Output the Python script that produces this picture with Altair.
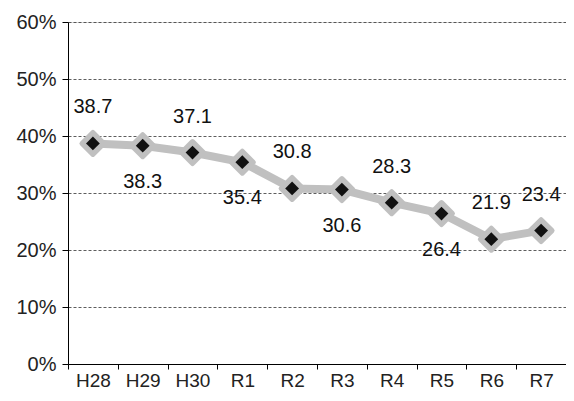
import altair as alt
import pandas as pd

years = ["H28", "H29", "H30", "R1", "R2", "R3", "R4", "R5", "R6", "R7"]
values = [38.7, 38.3, 37.1, 35.4, 30.8, 30.6, 28.3, 26.4, 21.9, 23.4]
label_pos = ["above", "below", "above", "below", "above", "below", "above", "below", "above", "above"]

df = pd.DataFrame({"year": years, "value": values, "pos": label_pos})
df["label"] = df["value"].map(lambda v: f"{v:.1f}")

FONT = "Liberation Sans"
FS = 20

x = alt.X("year:N", sort=years, title=None,
          scale=alt.Scale(paddingInner=0, paddingOuter=0),
          axis=alt.Axis(labelAngle=0, tickBand="extent", grid=False,
                        domainColor="#000", tickColor="#000", tickSize=5,
                        labelColor="#222", labelFontSize=19, labelFont=FONT,
                        labelPadding=2))
y = alt.Y("value:Q", title=None,
          scale=alt.Scale(domain=[0, 60], nice=False),
          axis=alt.Axis(values=[0, 10, 20, 30, 40, 50, 60],
                        labelExpr="datum.value + '%'",
                        grid=True, gridDash=[3, 2], gridColor="#333", gridWidth=0.8,
                        domainColor="#000", tickColor="#000", tickSize=6,
                        labelColor="#222", labelFontSize=FS, labelFont=FONT,
                        labelPadding=6))

base = alt.Chart(df).encode(x=x, y=y)

line = base.mark_line(color="#c0c0c0", strokeWidth=8)
outer = base.mark_point(shape="diamond", filled=True, color="#c0c0c0", size=480,
                        stroke="#c0c0c0", strokeWidth=5, strokeJoin="round", opacity=1)
inner = base.mark_point(shape="diamond", filled=True, color="#111", size=190, opacity=1)

above = base.transform_filter("datum.pos == 'above'").mark_text(
    dy=-36, fontSize=FS, font=FONT, color="#111").encode(text="label:N")
below = base.transform_filter("datum.pos == 'below'").mark_text(
    dy=36, fontSize=FS, font=FONT, color="#111").encode(text="label:N")

chart = (line + outer + inner + above + below).properties(
    width=498, height=342,
    autosize=alt.AutoSizeParams(type="none"),
    padding={"left": 60, "top": 14, "right": 0, "bottom": 28},
).configure_view(stroke=None).configure(background="white")

chart.save("out.html", embed_options={"renderer": "svg", "actions": False})
